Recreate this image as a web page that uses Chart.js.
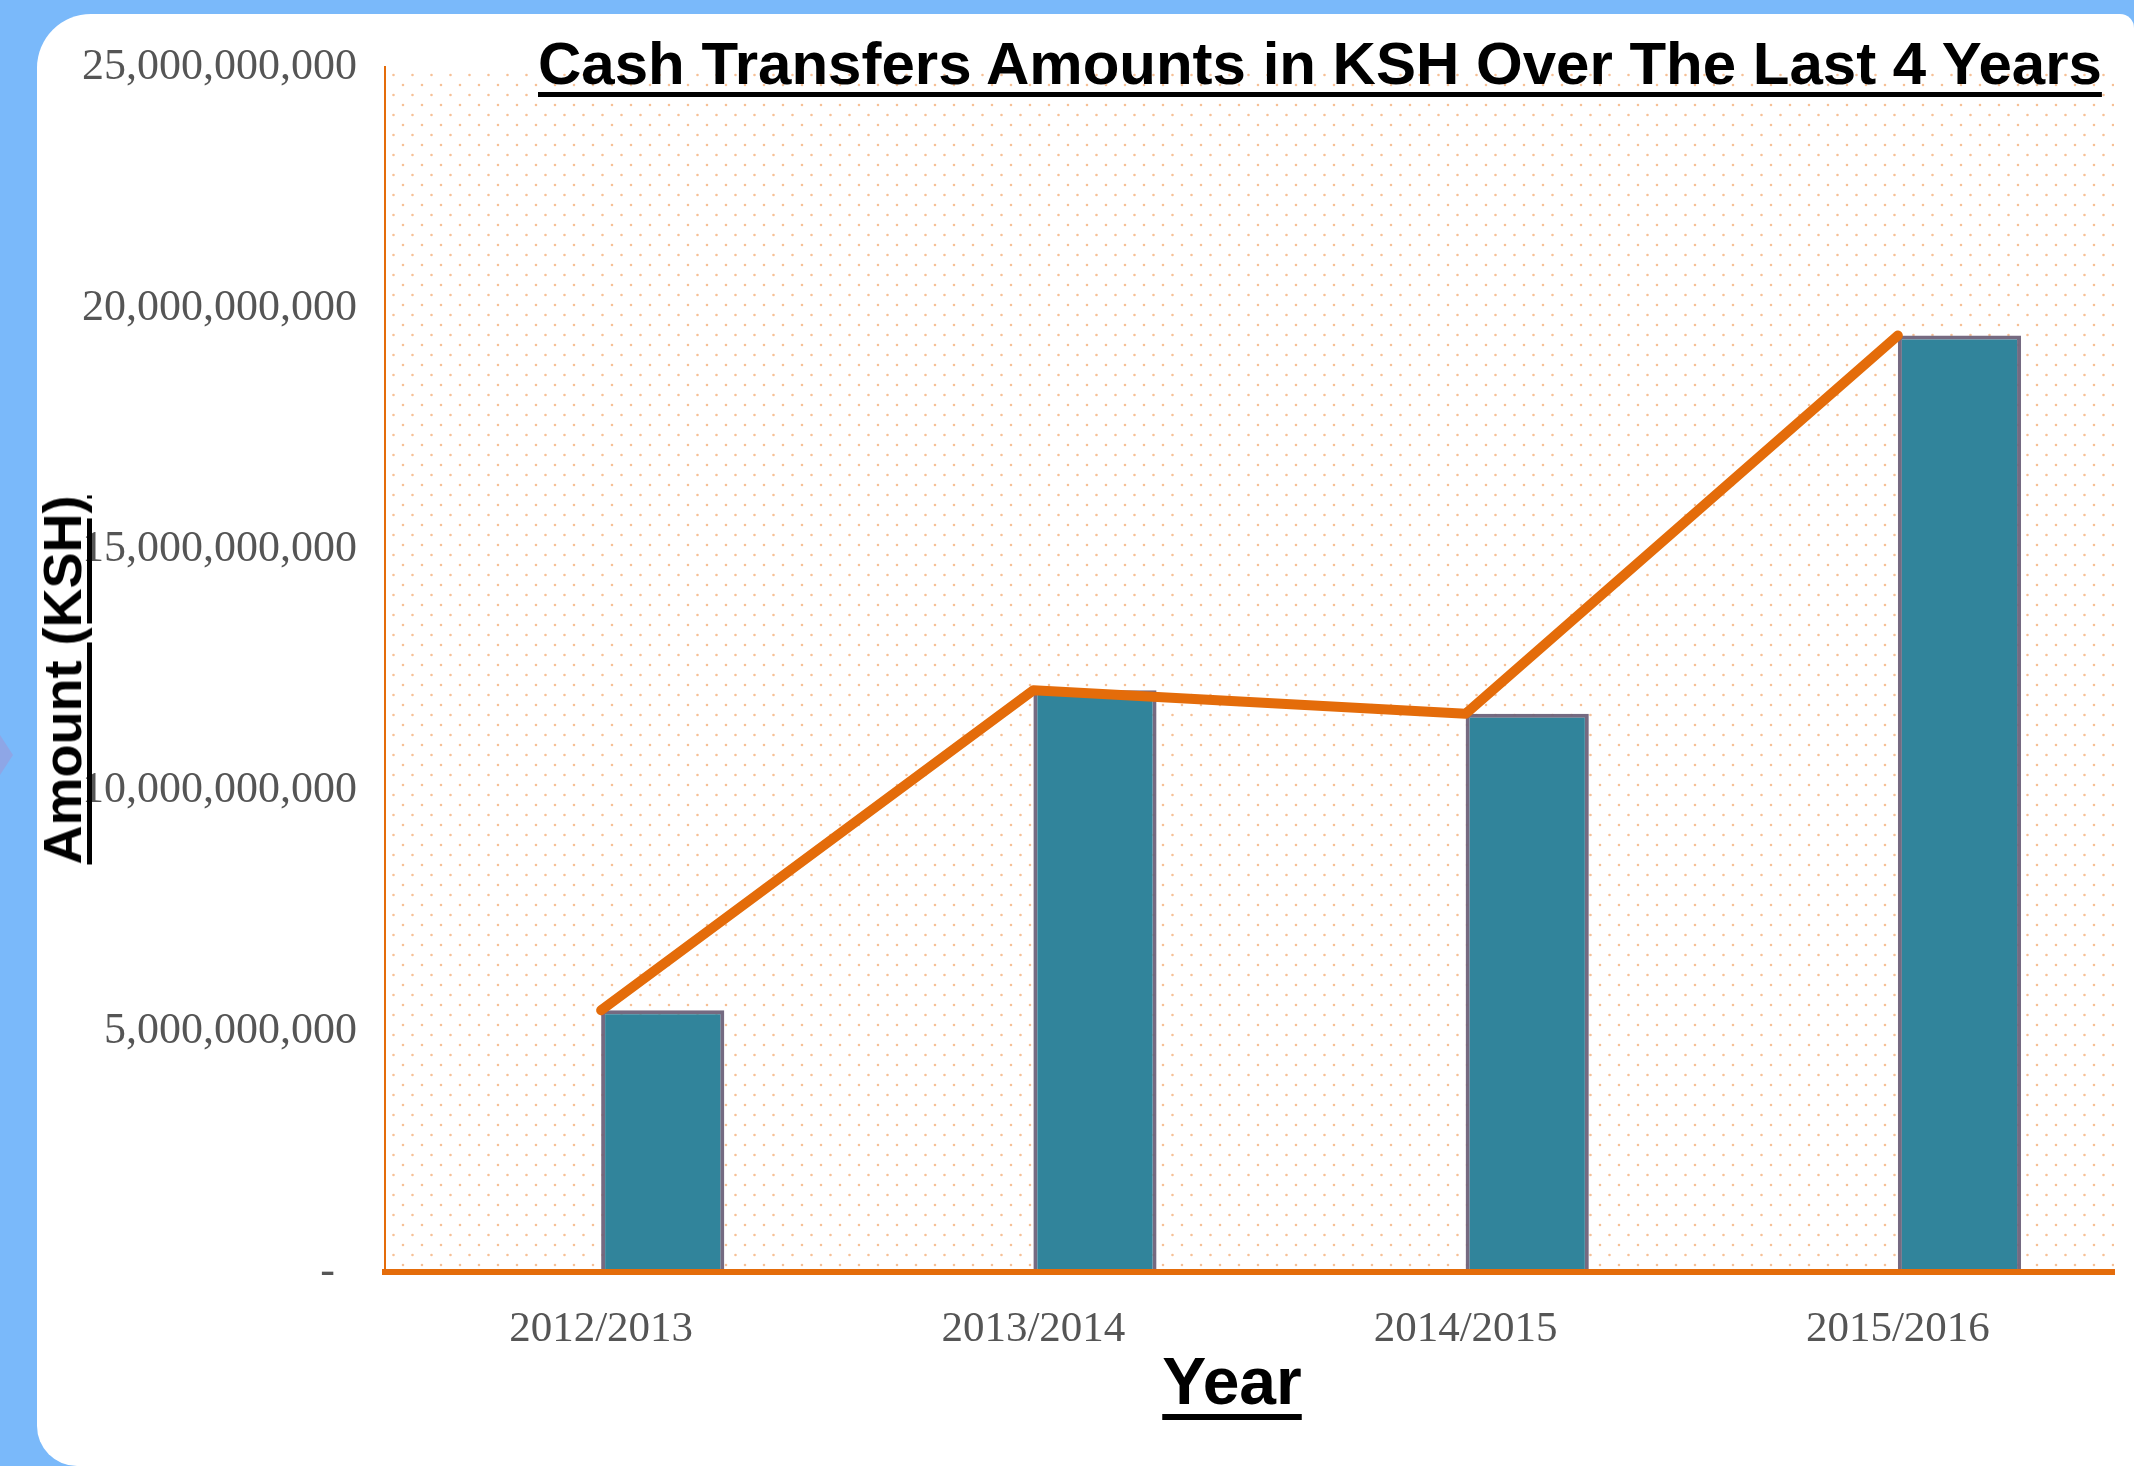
<!DOCTYPE html>
<html>
<head>
<meta charset="utf-8">
<title>Cash Transfers Amounts in KSH</title>
<script src="https://cdn.jsdelivr.net/npm/chart.js@4.4.1/dist/chart.umd.min.js"></script>
<style>
  html, body {
    margin: 0;
    padding: 0;
    width: 2134px;
    height: 1466px;
    overflow: hidden;
    background: #7ab9fa;
  }
  #panel {
    position: absolute;
    left: 37px;
    top: 14px;
    width: 2097px;
    height: 1452px;
    background: #ffffff;
    border-radius: 54px 14px 0 40px;
  }
  #notch {
    position: absolute;
    left: 0;
    top: 735px;
    width: 0;
    height: 0;
    border-top: 20px solid transparent;
    border-bottom: 20px solid transparent;
    border-left: 13px solid #8ea6e6;
  }
  #chart {
    position: absolute;
    left: 0;
    top: 0;
  }
  .label {
    position: absolute;
    font-family: "Liberation Sans", Arial, sans-serif;
    font-weight: bold;
    color: #000;
    white-space: nowrap;
    text-decoration: underline;
  }
  #title {
    left: 538px;
    top: 34px;
    font-size: 60px;
    line-height: 60px;
    text-decoration-thickness: 5px;
    text-underline-offset: 8px;
  }
  #xTitle {
    left: 1232px;
    top: 1348px;
    transform: translateX(-50%);
    font-size: 66px;
    line-height: 66px;
    text-decoration-thickness: 6px;
    text-underline-offset: 10px;
  }
  #yTitle {
    left: 62px;
    top: 680px;
    transform: translate(-50%, -50%) rotate(-90deg);
    font-size: 54px;
    line-height: 54px;
    text-decoration-thickness: 5px;
    text-underline-offset: 6px;
  }
</style>
</head>
<body>
<div id="panel"></div>
<div id="notch"></div>
<canvas id="chart" width="2134" height="1466"></canvas>
<div id="title" class="label">Cash Transfers Amounts in KSH Over The Last 4 Years</div>
<div id="yTitle" class="label">Amount (KSH)</div>
<div id="xTitle" class="label">Year</div>

<script>
// Chart data
const years = ["2012/2013", "2013/2014", "2014/2015", "2015/2016"];
const amounts = [5430000000, 12070000000, 11580000000, 19430000000];
// empty first slot of each group, pushes the bars right of the tick
const emptySlot = [null, null, null, null];
const yMax = 25000000000;
const yStep = 5000000000;

const orange = "#e46c0a";
const tickGrey = "#555555";

// light orange dotted fill behind the plot
function dotPattern(ctx) {
  const tile = document.createElement("canvas");
  tile.width = 19;
  tile.height = 20;
  const t = tile.getContext("2d");
  t.fillStyle = "rgba(242, 165, 105, 0.7)";
  t.beginPath();
  t.arc(4, 5, 1.3, 0, Math.PI * 2);
  t.arc(13.5, 15, 1.3, 0, Math.PI * 2);
  t.fill();
  return ctx.createPattern(tile, "repeat");
}

const plotBackground = {
  id: "plotBackground",
  beforeDraw(chart) {
    const { ctx, chartArea } = chart;
    ctx.save();
    ctx.fillStyle = dotPattern(ctx);
    ctx.fillRect(
      chartArea.left,
      chartArea.top,
      chartArea.right - chartArea.left,
      chartArea.bottom - chartArea.top
    );
    ctx.restore();
  },
};

const chartCon = document.getElementById("chart");

new Chart(chartCon, {
  type: "bar",
  data: {
    labels: years,
    datasets: [
      {
        type: "line",
        label: "Trend",
        data: amounts,
        borderColor: orange,
        borderWidth: 10,
        borderCapStyle: "round",
        borderJoinStyle: "round",
        pointRadius: 0,
        tension: 0,
        fill: false,
        order: 0,
      },
      {
        label: "",
        data: emptySlot,
        order: 1,
      },
      {
        label: "Amount",
        data: amounts,
        backgroundColor: "#31849b",
        borderColor: "rgba(110, 98, 122, 0.95)",
        borderWidth: 4,
        order: 1,
      },
    ],
  },
  options: {
    responsive: false,
    animation: false,
    devicePixelRatio: 1,
    layout: {
      padding: { left: 0, top: 67, right: 20, bottom: 0 },
    },
    datasets: {
      bar: {
        categoryPercentage: 0.57,
        barPercentage: 1.0,
      },
    },
    scales: {
      x: {
        offset: true,
        grid: { display: false },
        border: { display: true, color: orange, width: 6, z: 1 },
        ticks: {
          color: tickGrey,
          padding: 24,
          font: { family: "'Liberation Serif', serif", size: 43 },
        },
        afterFit(scale) {
          scale.height = 194;
        },
      },
      y: {
        min: 0,
        max: yMax,
        grid: { display: false },
        border: { display: true, color: orange, width: 2 },
        ticks: {
          stepSize: yStep,
          color: tickGrey,
          padding: 20,
          crossAlign: "near",
          font: { family: "'Liberation Serif', serif", size: 44 },
          callback: function (value) {
            if (value === 0) return "-  ";
            return value.toLocaleString("en-US");
          },
        },
        afterFit(scale) {
          scale.width = 385;
        },
      },
    },
    plugins: {
      legend: { display: false },
      tooltip: { enabled: false },
      title: { display: false },
    },
  },
  plugins: [plotBackground],
});
</script>
</body>
</html>
